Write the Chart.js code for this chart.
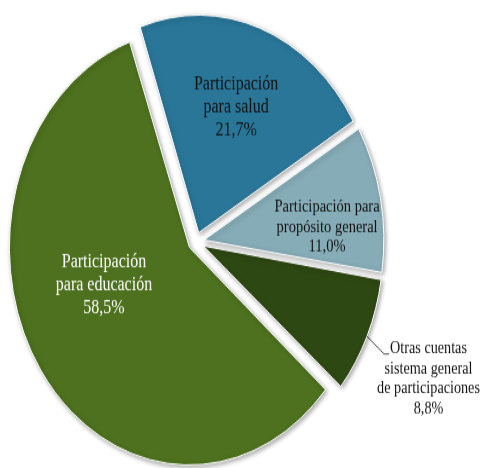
<!DOCTYPE html>
<html>
<head>
<meta charset="utf-8">
<script src="https://cdn.jsdelivr.net/npm/chart.js@4"></script>
<style>
    html, body { margin: 0; padding: 0; background: #fff; overflow: hidden; }
    #page { width: 482px; height: 468px; position: relative; overflow: hidden; }
    /* the original pie is drawn squashed, so stretch the canvas vertically */
    #wrap { position: absolute; left: 0; top: 0; width: 482px; height: 387px; transform: scaleY(1.2093); transform-origin: 0 0; }
</style>
</head>
<body>
<div id="page"><div id="wrap"><canvas id="pieChart" width="482" height="387"></canvas></div></div>
<script>
// Data
const categories = [
    ['Participación', 'para salud'],
    ['Participación para', 'propósito general'],
    ['Otras cuentas', 'sistema general', 'de participaciones'],
    ['Participación', 'para educación']
];
const shares = [21.7, 11.0, 8.8, 58.5];

const sliceColors = ['#2a7698', '#86acb7', '#2e4813', '#4d711e'];
const textColors = ['#111', '#111', '#111', '#fff'];
const fontSizes = [16, 14.5, 14.2, 16];
const lineHeights = [19, 16.5, 16.5, 19];
// label placement: fraction of radius and angle tweak (degrees)
const labelRadius = [0.614, 0.687, 1.393, 0.505];
const labelTurn = [-0.3, 6.3, 1.5, 14.3];

const shareText = shares.map(v => v.toFixed(1).replace('.', ',') + '%');

const labelPlugin = {
    id: 'sliceLabels',
    afterDatasetUpdate(chart) {
        // Chart.js grows exploded slices by offset * (1 - sin(circumference)); undo that so all slices share one radius
        const meta = chart.getDatasetMeta(0);
        const shift = chart.data.datasets[0].offset / 4;
        const R = meta.controller.outerRadius;
        meta.data.forEach(arc => {
            const fix = 1 - Math.sin(Math.min(Math.PI, arc.circumference));
            arc.outerRadius = R - shift * fix;
        });
    },
    beforeDatasetsDraw(chart) {
        const ctx = chart.ctx;
        ctx.save();
        ctx.shadowColor = 'rgba(0,0,0,0.35)';
        ctx.shadowBlur = 4;
        ctx.shadowOffsetX = 1.5;
        ctx.shadowOffsetY = 1.5;
    },
    afterDatasetsDraw(chart) {
        const ctx = chart.ctx;
        ctx.restore();
        const meta = chart.getDatasetMeta(0);
        const shift = chart.data.datasets[0].offset / 4;
        const R = meta.controller.outerRadius;
        meta.data.forEach((arc, i) => {
            const p = arc.getProps(['x', 'y', 'startAngle', 'endAngle']);
            const mid = (p.startAngle + p.endAngle) / 2;
            const cx = p.x + Math.cos(mid) * shift;
            const cy = p.y + Math.sin(mid) * shift;
            const a = mid + labelTurn[i] * Math.PI / 180;
            const lx = cx + Math.cos(a) * R * labelRadius[i];
            const ly = cy + Math.sin(a) * R * labelRadius[i];
            const lines = categories[i].concat([shareText[i]]);
            const lh = lineHeights[i];
            ctx.save();
            ctx.font = fontSizes[i] + 'px "Liberation Serif", "Times New Roman", serif';
            ctx.fillStyle = textColors[i];
            ctx.textAlign = 'center';
            ctx.textBaseline = 'middle';
            const top = ly - (lines.length - 1) * lh / 2;
            lines.forEach((t, k) => ctx.fillText(t, lx, top + k * lh));
            if (labelRadius[i] > 1) {
                // leader line from slice edge to the outside label
                const sx = cx + Math.cos(mid) * R;
                const sy = cy + Math.sin(mid) * R;
                const w = ctx.measureText(lines[0]).width;
                const ex = lx - w / 2 - 1;
                const ey = top + 4;
                ctx.strokeStyle = '#222';
                ctx.lineWidth = 0.8;
                ctx.beginPath();
                ctx.moveTo(sx, sy);
                ctx.lineTo(ex - 5, ey);
                ctx.lineTo(ex, ey);
                ctx.stroke();
            }
            ctx.restore();
        });
    }
};

const pieCtx = document.getElementById('pieChart').getContext('2d');
new Chart(pieCtx, {
    type: 'pie',
    data: {
        labels: categories.map(c => c.join(' ')),
        datasets: [{
            data: shares,
            backgroundColor: sliceColors,
            borderColor: '#fff',
            borderWidth: 1,
            offset: 32
        }]
    },
    options: {
        responsive: false,
        animation: false,
        events: [],
        rotation: -19,
        radius: 180,
        layout: {
            padding: { left: 0, right: 90, top: 13, bottom: 0 }
        },
        plugins: {
            legend: { display: false },
            tooltip: { enabled: false }
        }
    },
    plugins: [labelPlugin]
});
</script>
</body>
</html>
